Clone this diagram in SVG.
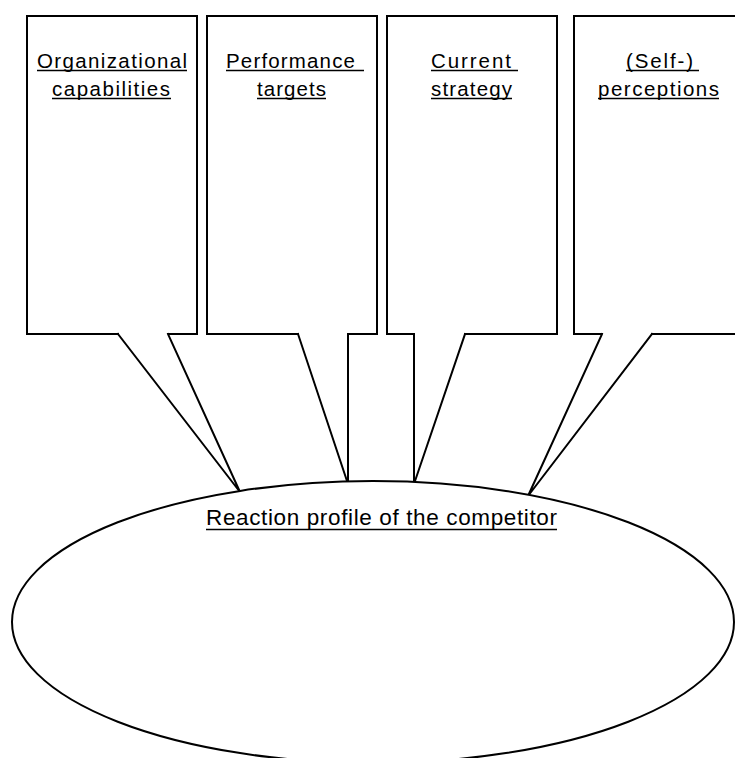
<svg xmlns="http://www.w3.org/2000/svg" width="735" height="758" viewBox="0 0 735 758">
  <style>
    .box { fill: #ffffff; stroke: #000000; stroke-width: 2; stroke-linejoin: miter; stroke-linecap: square; }
    .tail { fill: #ffffff; stroke: #000000; stroke-width: 2; stroke-linejoin: miter; stroke-linecap: square; }
    .ell { fill: #ffffff; stroke: #000000; stroke-width: 2; }
    .lbl { font-family: "Liberation Sans", Arial, sans-serif; font-size: 20.5px; fill: #000000; }
    .big { font-family: "Liberation Sans", Arial, sans-serif; font-size: 22.5px; fill: #000000; }
    .ul { stroke: #000000; stroke-width: 1.3; }
  </style>
  <rect x="0" y="0" width="735" height="758" fill="#ffffff"/>
  <g id="node-organizational-capabilities">
    <path class="box" d="M168,334 H197 V16 H27 V334 H118"/>
    <text class="lbl" x="37" y="68" textLength="150" lengthAdjust="spacing">Organizational</text>
    <line class="ul" x1="37" y1="70.5" x2="187" y2="70.5"/>
    <text class="lbl" x="52" y="96" textLength="118" lengthAdjust="spacing">capabilities</text>
    <line class="ul" x1="52" y1="98.5" x2="171" y2="98.5"/>
  </g>
  <g id="node-performance-targets">
    <path class="box" d="M348,334 H377 V16 H207 V334 H298"/>
    <text class="lbl" x="226" y="68" textLength="129" lengthAdjust="spacing">Performance</text>
    <line class="ul" x1="226" y1="70.5" x2="364" y2="70.5"/>
    <text class="lbl" x="257" y="96" textLength="69" lengthAdjust="spacing">targets</text>
    <line class="ul" x1="257" y1="98.5" x2="326" y2="98.5"/>
  </g>
  <g id="node-current-strategy">
    <path class="box" d="M465,334 H557 V16 H387 V334 H414"/>
    <text class="lbl" x="431" y="68" textLength="80" lengthAdjust="spacing">Current</text>
    <line class="ul" x1="431" y1="70.5" x2="518" y2="70.5"/>
    <text class="lbl" x="431" y="96" textLength="81" lengthAdjust="spacing">strategy</text>
    <line class="ul" x1="431" y1="98.5" x2="512" y2="98.5"/>
  </g>
  <g id="node-self-perceptions">
    <path class="box" d="M652,334 H746 V16 H574 V334 H602"/>
    <text class="lbl" x="626" y="68" textLength="67" lengthAdjust="spacing">(Self-)</text>
    <line class="ul" x1="626" y1="70.5" x2="699" y2="70.5"/>
    <text class="lbl" x="598" y="96" textLength="121" lengthAdjust="spacing">perceptions</text>
    <line class="ul" x1="598" y1="98.5" x2="719" y2="98.5"/>
  </g>
  <g id="connectors">
    <polyline class="tail" points="118,334 240,492 168,334"/>
    <polyline class="tail" points="298,334 348,484 348,334"/>
    <polyline class="tail" points="414,334 414,484 465,334"/>
    <polyline class="tail" points="602,334 528,496 652,334"/>
  </g>
  <g id="node-reaction-profile">
    <ellipse class="ell" cx="373" cy="622" rx="361" ry="141"/>
    <text class="big" x="206" y="525" textLength="351" lengthAdjust="spacing">Reaction profile of the competitor</text>
    <line class="ul" x1="206" y1="529.5" x2="557" y2="529.5"/>
  </g>
</svg>
